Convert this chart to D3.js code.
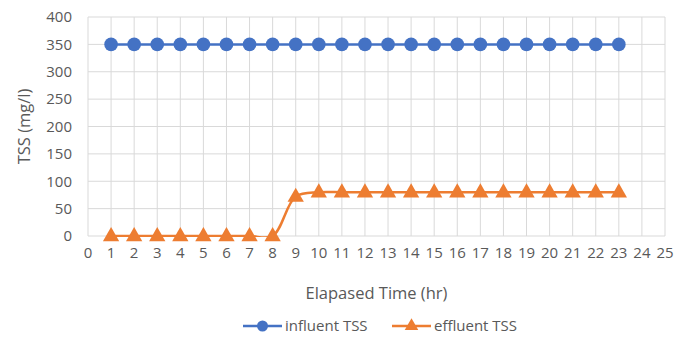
<!DOCTYPE html>
<html>
<head>
<meta charset="utf-8">
<script src="https://cdn.jsdelivr.net/npm/d3@7"></script>
<style>
  body { margin: 0; background: #fff; }
  svg { font-family: "Open Sans", "Noto Sans", sans-serif; }
</style>
</head>
<body>
<svg id="chart" width="675" height="341"></svg>
<script>
const hours = d3.range(1, 24);
const influent = [350, 350, 350, 350, 350, 350, 350, 350, 350, 350, 350, 350, 350, 350, 350, 350, 350, 350, 350, 350, 350, 350, 350];
const effluent = [0, 0, 0, 0, 0, 0, 0, 0, 72, 80, 80, 80, 80, 80, 80, 80, 80, 80, 80, 80, 80, 80, 80];
const xTicks = d3.range(0, 26);
const yTicks = d3.range(0, 401, 50);
const seriesNames = ["influent TSS", "effluent TSS"];
const colors = ["#4472C4", "#ED7D31"];

const svg = d3.select("#chart");
const width = 675, height = 341;

const x = d3.scaleLinear().domain([0, 25]).range([88, 665]);
const y = d3.scaleLinear().domain([0, 400]).range([236, 17]);

// grid
svg.append("g").selectAll("line").data(yTicks).join("line")
  .attr("x1", x(0)).attr("x2", x(25))
  .attr("y1", d => y(d)).attr("y2", d => y(d))
  .attr("stroke", "#d9d9d9").attr("stroke-width", 1);
svg.append("g").selectAll("line").data(xTicks).join("line")
  .attr("x1", d => x(d)).attr("x2", d => x(d))
  .attr("y1", y(0)).attr("y2", y(400))
  .attr("stroke", "#d9d9d9").attr("stroke-width", 1);

// tick labels
svg.append("g").selectAll("text").data(yTicks).join("text")
  .attr("x", x(0) - 16).attr("y", d => y(d)).attr("dy", "0.35em")
  .attr("text-anchor", "end").attr("font-size", 15).attr("fill", "#595959")
  .text(d => d);
svg.append("g").selectAll("text").data(xTicks).join("text")
  .attr("x", d => x(d)).attr("y", y(0) + 22)
  .attr("text-anchor", "middle").attr("font-size", 15).attr("fill", "#595959")
  .text(d => d);

// axis titles
svg.append("text")
  .attr("x", (x(0) + x(25)) / 2).attr("y", 299)
  .attr("text-anchor", "middle").attr("font-size", 16.5).attr("fill", "#595959")
  .text("Elapased Time (hr)");
svg.append("text")
  .attr("transform", `translate(30, ${(y(0) + y(400)) / 2}) rotate(-90)`)
  .attr("text-anchor", "middle").attr("font-size", 16.5).attr("fill", "#595959")
  .text("TSS (mg/l)");

svg.append("defs").append("clipPath").attr("id", "plotClip")
  .append("rect").attr("x", 0).attr("y", 0).attr("width", width).attr("height", y(0) + 1);

const line = d3.line().x(d => x(d[0])).y(d => y(d[1])).curve(d3.curveCatmullRom.alpha(0.5));

const data = [influent, effluent].map(vals => hours.map((h, i) => [h, vals[i]]));

data.forEach((pts, k) => {
  svg.append("path").datum(pts)
    .attr("d", line)
    .attr("fill", "none")
    .attr("stroke", colors[k])
    .attr("stroke-width", 2.5)
    .attr("clip-path", k === 1 ? "url(#plotClip)" : null);
});

const triangle = d3.symbol().type(d3.symbolTriangle).size(115);

svg.append("g").selectAll("circle").data(data[0]).join("circle")
  .attr("cx", d => x(d[0])).attr("cy", d => y(d[1])).attr("r", 6.8)
  .attr("fill", colors[0]);
svg.append("g").selectAll("path").data(data[1]).join("path")
  .attr("d", triangle)
  .attr("transform", d => `translate(${x(d[0])}, ${y(d[1]) + 0.5})`)
  .attr("fill", colors[1]);

// legend
const legend = svg.append("g").attr("transform", "translate(0, 326)");
const legendX = [243, 392];
seriesNames.forEach((name, k) => {
  const g = legend.append("g").attr("transform", `translate(${legendX[k]}, 0)`);
  g.append("line").attr("x1", 0).attr("x2", 39).attr("y1", 0).attr("y2", 0)
    .attr("stroke", colors[k]).attr("stroke-width", 2.5);
  if (k === 0) {
    g.append("circle").attr("cx", 19.5).attr("cy", 0).attr("r", 5.5).attr("fill", colors[k]);
  } else {
    g.append("path").attr("d", d3.symbol().type(d3.symbolTriangle).size(80))
      .attr("transform", "translate(19.5, 0)").attr("fill", colors[k]);
  }
  g.append("text").attr("x", 42).attr("y", 0).attr("dy", "0.35em")
    .attr("font-size", 15).attr("fill", "#595959").text(name);
});
</script>
</body>
</html>
